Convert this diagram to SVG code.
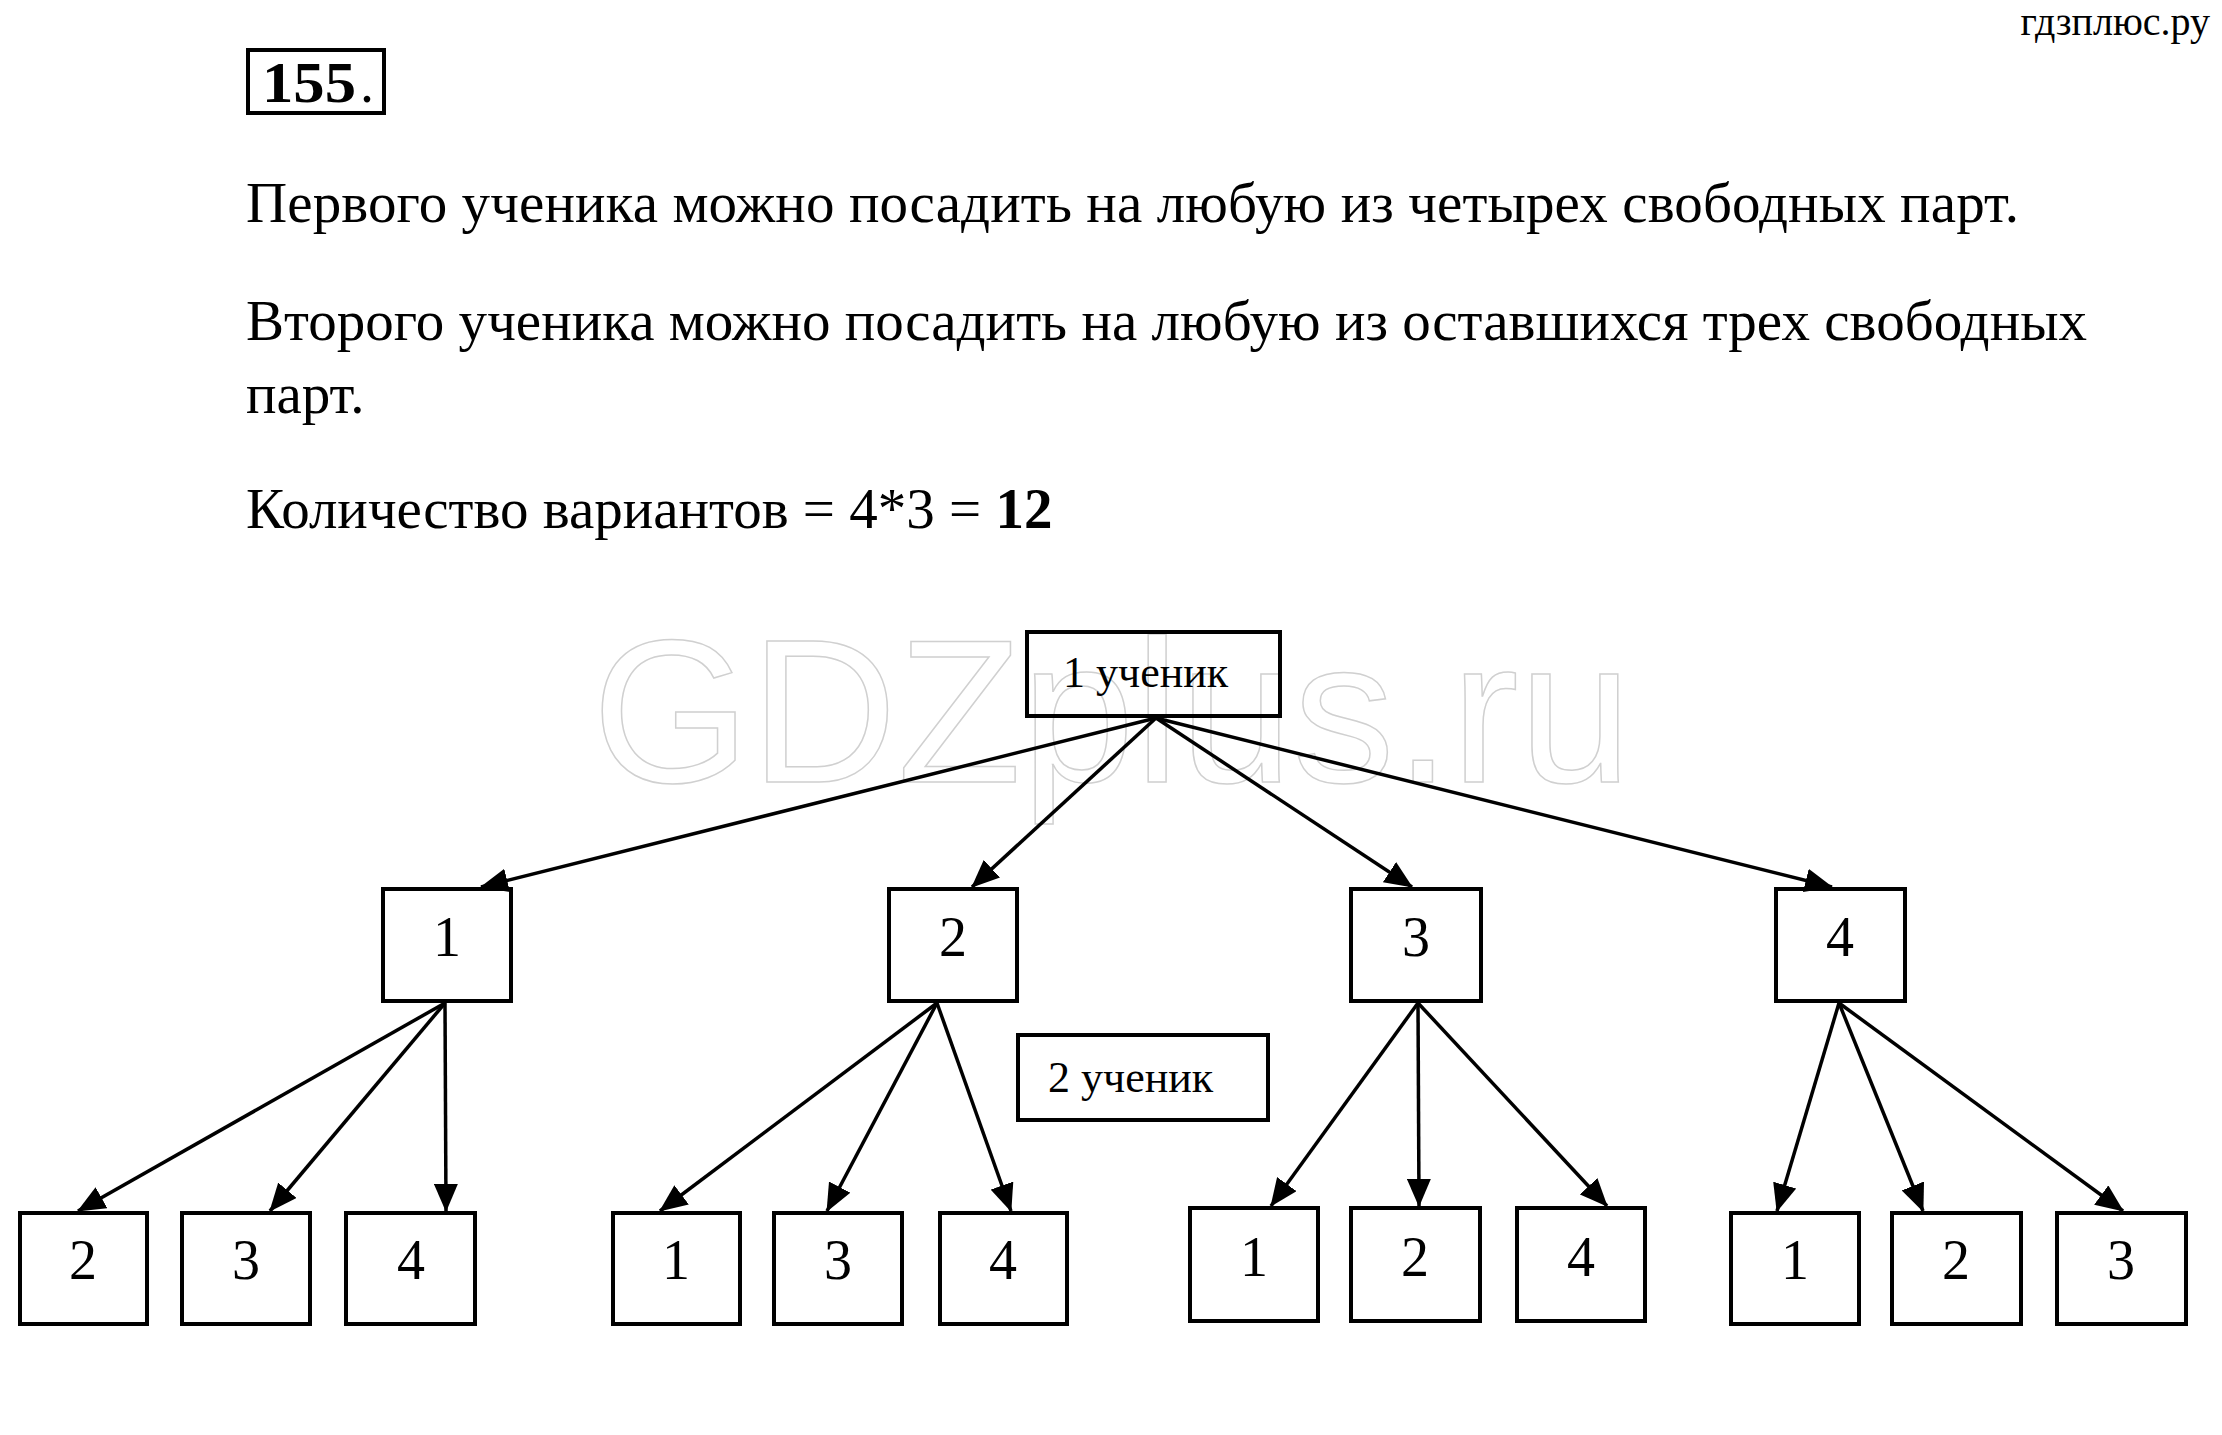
<svg xmlns="http://www.w3.org/2000/svg" width="2222" height="1435" viewBox="0 0 2222 1435">
<style>
  .t { font-family: "Liberation Serif", "Times New Roman", serif; fill: #000; }
  .main { font-size: 57px; }
  .num { font-size: 56px; text-anchor: middle; }
  .lbl { font-size: 44px; }
  .box { fill: none; stroke: #000; stroke-width: 4; }
  .con { stroke: #000; stroke-width: 3.5; fill: none; marker-end: url(#ah); }
  .wm { font-family: "Liberation Sans", Arial, sans-serif; font-size: 205px; fill: none; stroke: #d0d0d0; stroke-width: 1.5; }
</style>
<defs>
  <marker id="ah" markerUnits="userSpaceOnUse" viewBox="0 0 28 24" refX="27" refY="12" markerWidth="28" markerHeight="24" orient="auto">
    <path d="M0,0 L28,12 L0,24 z" fill="#000"/>
  </marker>
</defs>
<rect width="2222" height="1435" fill="#fff"/>
<text class="t" x="2210" y="35" font-size="40" text-anchor="end">гдзплюс.ру</text>
<text class="wm" x="592" y="782" textLength="1040" lengthAdjust="spacingAndGlyphs">GDZplus.ru</text>
<g id="header">
  <rect x="248" y="50" width="136" height="63" class="box"/>
  <text class="t" x="262" y="102" font-size="56" font-weight="bold" textLength="94" lengthAdjust="spacingAndGlyphs">155</text>
  <text class="t" x="360" y="102" font-size="56">.</text>
</g>
<g id="body-text">
  <text class="t main" x="246" y="222" textLength="1773" lengthAdjust="spacing">Первого ученика можно посадить на любую из четырех свободных парт.</text>
  <text class="t main" x="246" y="340" textLength="1841" lengthAdjust="spacing">Второго ученика можно посадить на любую из оставшихся трех свободных</text>
  <text class="t main" x="246" y="413">парт.</text>
  <text class="t main" x="246" y="528">Количество вариантов = 4*3 = <tspan font-weight="bold">12</tspan></text>
</g>
<g id="connectors">
  <line class="con" x1="1156" y1="718" x2="481" y2="887"/>
  <line class="con" x1="1156" y1="718" x2="972" y2="887"/>
  <line class="con" x1="1156" y1="718" x2="1412" y2="887"/>
  <line class="con" x1="1156" y1="718" x2="1832" y2="887"/>
  <line class="con" x1="445" y1="1003" x2="78" y2="1211"/>
  <line class="con" x1="445" y1="1003" x2="270" y2="1211"/>
  <line class="con" x1="445" y1="1003" x2="446" y2="1211"/>
  <line class="con" x1="937" y1="1003" x2="660" y2="1211"/>
  <line class="con" x1="937" y1="1003" x2="827" y2="1211"/>
  <line class="con" x1="937" y1="1003" x2="1011" y2="1211"/>
  <line class="con" x1="1418" y1="1003" x2="1271" y2="1206"/>
  <line class="con" x1="1418" y1="1003" x2="1419" y2="1206"/>
  <line class="con" x1="1418" y1="1003" x2="1607" y2="1206"/>
  <line class="con" x1="1839" y1="1003" x2="1777" y2="1211"/>
  <line class="con" x1="1839" y1="1003" x2="1923" y2="1211"/>
  <line class="con" x1="1839" y1="1003" x2="2123" y2="1211"/>
</g>
<g id="root">
  <rect x="1027" y="632" width="253" height="84" class="box"/>
  <text class="t lbl" x="1063" y="687">1 ученик</text>
</g>
<g id="student2-label">
  <rect x="1018" y="1035" width="250" height="85" class="box"/>
  <text class="t lbl" x="1048" y="1092">2 ученик</text>
</g>
<g id="n1"><rect x="383" y="889" width="128" height="112" class="box"/><text class="t num" x="447" y="956">1</text></g>
<g id="n2"><rect x="889" y="889" width="128" height="112" class="box"/><text class="t num" x="953" y="956">2</text></g>
<g id="n3"><rect x="1351" y="889" width="130" height="112" class="box"/><text class="t num" x="1416" y="956">3</text></g>
<g id="n4"><rect x="1776" y="889" width="129" height="112" class="box"/><text class="t num" x="1840" y="956">4</text></g>
<g id="n1-2"><rect x="20" y="1213" width="127" height="111" class="box"/><text class="t num" x="83" y="1279">2</text></g>
<g id="n1-3"><rect x="182" y="1213" width="128" height="111" class="box"/><text class="t num" x="246" y="1279">3</text></g>
<g id="n1-4"><rect x="346" y="1213" width="129" height="111" class="box"/><text class="t num" x="411" y="1279">4</text></g>
<g id="n2-1"><rect x="613" y="1213" width="127" height="111" class="box"/><text class="t num" x="676" y="1279">1</text></g>
<g id="n2-3"><rect x="774" y="1213" width="128" height="111" class="box"/><text class="t num" x="838" y="1279">3</text></g>
<g id="n2-4"><rect x="940" y="1213" width="127" height="111" class="box"/><text class="t num" x="1003" y="1279">4</text></g>
<g id="n3-1"><rect x="1190" y="1208" width="128" height="113" class="box"/><text class="t num" x="1254" y="1276">1</text></g>
<g id="n3-2"><rect x="1351" y="1208" width="129" height="113" class="box"/><text class="t num" x="1415" y="1276">2</text></g>
<g id="n3-4"><rect x="1517" y="1208" width="128" height="113" class="box"/><text class="t num" x="1581" y="1276">4</text></g>
<g id="n4-1"><rect x="1731" y="1213" width="128" height="111" class="box"/><text class="t num" x="1795" y="1279">1</text></g>
<g id="n4-2"><rect x="1892" y="1213" width="129" height="111" class="box"/><text class="t num" x="1956" y="1279">2</text></g>
<g id="n4-3"><rect x="2057" y="1213" width="129" height="111" class="box"/><text class="t num" x="2121" y="1279">3</text></g>
</svg>
